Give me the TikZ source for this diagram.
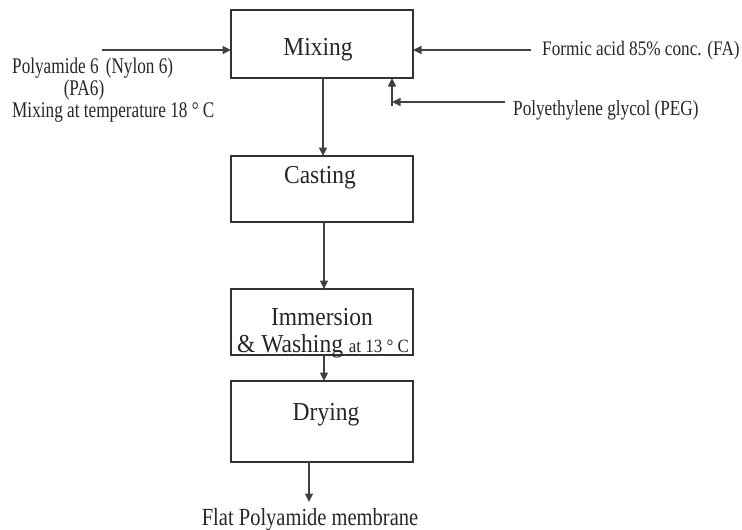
\documentclass[tikz,border=0pt]{standalone}
\usepackage{fontspec}
\setmainfont{Liberation Serif}
\usetikzlibrary{arrows.meta}
% vertically stretched text
\newcommand{\stretchtext}[2]{\scalebox{1}[#1]{#2}}
\begin{document}
\begin{tikzpicture}[x=1pt,y=-1pt,
  stage/.style={draw=black!80, line width=1.6pt, minimum width=182pt, inner sep=0pt, outer sep=0pt},
  big/.style={font=\fontsize{23.5}{28}\selectfont, text=black!85, inner sep=0pt, anchor=base},
  small/.style={font=\fontsize{17.2}{20}\selectfont, text=black!85, inner sep=0pt, anchor=base west},
  flow/.style={draw=black!75, line width=1.3pt, -{Triangle[length=8.5pt,width=8pt]}}]
\useasboundingbox (0,0) rectangle (742,530);

% process stages
\node[stage, minimum height=68pt] (mix) at (322,44) {};
\node[stage, minimum height=66pt] (cast) at (322,189) {};
\node[stage, minimum height=66pt] (imm) at (322,322) {};
\node[stage, minimum height=81pt] (dry) at (322,421.5) {};

% stage captions
\node[big] (tmix) at (318,55) {\stretchtext{1.1}{Mixing}};
\node[big] (tcast) at (320,183) {\stretchtext{1.1}{Casting}};
\node[big] (timm) at (322,325) {\stretchtext{1.1}{Immersion}};
\node[anchor=base west, inner sep=0pt, text=black!85] (twash) at (237,352)
  {\stretchtext{1.1}{\fontsize{23.5}{28}\selectfont\& Washing \fontsize{17}{20}\selectfont at 13 ° C}};
\node[big] (tdry) at (326,420) {\stretchtext{1.1}{Drying}};

% feed labels
\node[small] (pa) at (12,73) {\stretchtext{1.3}{Polyamide 6 \,(Nylon 6)}};
\node[small, anchor=base] (pa6) at (84,95) {\stretchtext{1.3}{(PA6)}};
\node[small] (temp) at (12,117) {\stretchtext{1.3}{Mixing at temperature 18 ° C}};
\node[small] (fa) at (542,55) {\stretchtext{1.2}{Formic acid 85\% conc. (FA)}};
\node[small] (peg) at (513,115) {\stretchtext{1.25}{Polyethylene glycol (PEG)}};
\node[font=\fontsize{20.5}{24}\selectfont, text=black!85, inner sep=0pt, anchor=base] (prod) at (310,525)
  {\stretchtext{1.2}{Flat Polyamide membrane}};

% feed arrows
\coordinate (pain) at (102,50);
\coordinate (fain) at (531,50);
\coordinate (pegin) at (505,102);
\coordinate (pegturn) at (392,102);
\coordinate (pegfoot) at (392,106);
\coordinate (prodtip) at (309,502);

\draw[flow] (pain) -- (mix.west |- pain);
\draw[flow] (fain) -- (mix.east |- fain);
\draw[flow] (pegin) -- (pegturn);
\draw[flow] (pegfoot) -- (pegfoot |- mix.south);

% main flow
\draw[flow] (mix.south -| 323,0) -- (cast.north -| 323,0);
\draw[flow] (cast.south -| 324,0) -- (imm.north -| 324,0);
\draw[flow] (imm.south -| 324,0) -- (dry.north -| 324,0);
\draw[flow] (dry.south -| prodtip) -- (prodtip);
\end{tikzpicture}
\end{document}
